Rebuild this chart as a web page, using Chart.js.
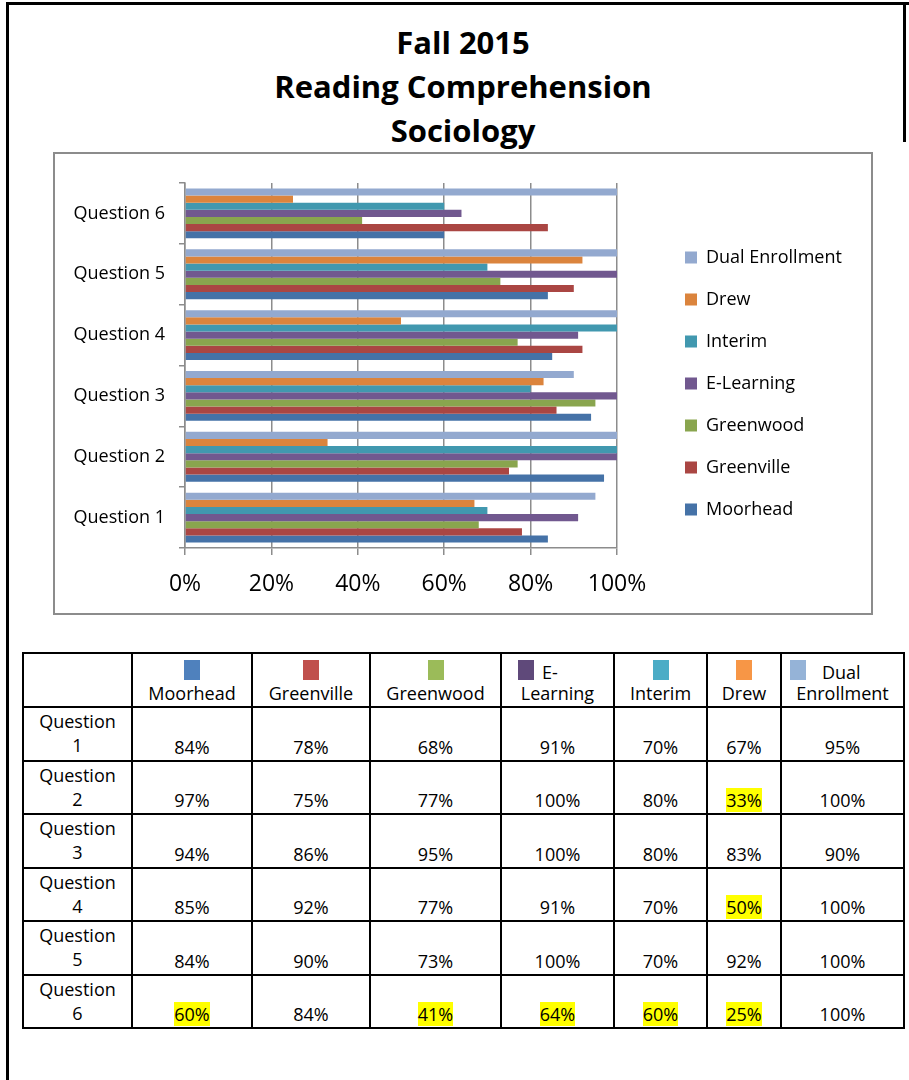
<!DOCTYPE html>
<html>
<head>
<meta charset="utf-8">
<script src="https://cdn.jsdelivr.net/npm/chart.js@4.4.0/dist/chart.umd.min.js"></script>
<style>
  body { margin: 0; background: #fff; font-family: "Open Sans", sans-serif; color: #000; }
  #page { position: relative; width: 909px; height: 1080px; overflow: hidden; }
  #frame { position: absolute; left: 6px; top: 2px; width: 920px; height: 1100px; border-left: 3px solid #000; border-top: 3px solid #000; }
  #frameRight { position: absolute; left: 903px; top: 2px; width: 3px; height: 140px; background: #000; }
  #title { position: absolute; left: 53px; top: 20px; width: 820px; text-align: center; font-weight: bold; font-size: 31px; line-height: 44px; }
  #chartBox { position: absolute; left: 53px; top: 152px; width: 816px; height: 459px; border: 2px solid #8c8c8c; }
  #data { position: absolute; left: 22px; top: 652px; border-collapse: collapse; table-layout: fixed; font-size: 18px; line-height: 24px; }
  #data td { border: 2px solid #000; padding: 0 2px 1px 2px; vertical-align: bottom; text-align: center; }
  #data tr { height: 53.5px; }
  #data tr.head { height: 54px; }
  #data td.q { vertical-align: top; padding-top: 1px; }
  #data td.h { vertical-align: top; padding-top: 6px; }
  .sq { display: inline-block; width: 16px; height: 20px; vertical-align: top; }
  .hl { background: #ffff00; }
</style>
</head>
<body>
<div id="page">
  <div id="frame"></div>
  <div id="frameRight"></div>
  <div id="title">Fall 2015<br>Reading Comprehension<br>Sociology</div>
  <div id="chartBox"><canvas id="chart"></canvas></div>
  <table id="data"></table>
</div>
<script>
// categories, bottom to top
const questions = ['Question 1', 'Question 2', 'Question 3', 'Question 4', 'Question 5', 'Question 6'];

// bar lengths as drawn in the chart (%)
const moorhead   = [84, 97, 94, 85, 84, 60];
const greenville = [78, 75, 86, 92, 90, 84];
const greenwood  = [68, 77, 95, 77, 73, 41];
const eLearning  = [91, 100, 100, 91, 100, 64];
const interim    = [70, 100, 80, 100, 70, 60];
const drew       = [67, 33, 83, 50, 92, 25];
const dual       = [95, 100, 90, 100, 100, 100];

// the table below the chart prints these for Interim
const interimTable = [70, 80, 80, 70, 70, 60];

const xTicks = [0, 20, 40, 60, 80, 100];

// cells marked yellow in the table (question number - site)
const highlighted = ['2-Drew', '4-Drew', '6-Moorhead', '6-Greenwood', '6-E-Learning', '6-Interim', '6-Drew'];

const series = [
  { name: 'Moorhead',        values: moorhead,   table: moorhead,     bar: '#4572a7', key: '#4f81bd' },
  { name: 'Greenville',      values: greenville, table: greenville,   bar: '#aa4643', key: '#c0504d' },
  { name: 'Greenwood',       values: greenwood,  table: greenwood,    bar: '#89a54e', key: '#9bbb59' },
  { name: 'E-Learning',      values: eLearning,  table: eLearning,    bar: '#71588f', key: '#5f497a' },
  { name: 'Interim',         values: interim,    table: interimTable, bar: '#4198af', key: '#4bacc6' },
  { name: 'Drew',            values: drew,       table: drew,         bar: '#db843d', key: '#f79646' },
  { name: 'Dual Enrollment', values: dual,       table: dual,         bar: '#93a9cf', key: '#95b3d7' }
];

const GRID = '#8c8c8c';
const FONT = '"Open Sans", sans-serif';

// --- chart ---
// Chart.js puts the first label on top and the first dataset on top of each group
const labelsTopDown = questions.slice().reverse();
const datasets = series.slice().reverse().map(s => ({
  label: s.name,
  data: s.values.slice().reverse(),
  backgroundColor: s.bar,
  borderWidth: 0
}));

const LEGEND_LEFT = 606;

const chart = new Chart(document.getElementById('chart'), {
  type: 'bar',
  data: { labels: labelsTopDown, datasets },
  options: {
    indexAxis: 'y',
    responsive: true,
    maintainAspectRatio: false,
    animation: false,
    categoryPercentage: 0.82,
    barPercentage: 1.0,
    layout: { padding: { top: 0, bottom: 0, left: 0, right: 12 } },
    plugins: {
      tooltip: { enabled: false },
      legend: {
        position: 'right',
        maxWidth: 300,
        labels: {
          boxWidth: 12,
          boxHeight: 12,
          padding: 24,
          color: '#000',
          font: { family: FONT, size: 18 }
        }
      }
    },
    scales: {
      x: {
        type: 'linear',
        position: 'bottom',
        min: xTicks[0],
        max: xTicks[xTicks.length - 1],
        afterBuildTicks: s => { s.ticks = xTicks.map(v => ({ value: v })); },
        ticks: {
          padding: 16,
          color: '#000',
          font: { family: FONT, size: 23 },
          callback: v => v + '%'
        },
        grid: { color: GRID, lineWidth: 1.5, tickLength: 7 },
        border: { display: true, color: GRID, width: 1.5 },
        afterFit: s => { s.height = 65; }
      },
      x2: {
        type: 'linear',
        position: 'top',
        grid: { display: false },
        ticks: { display: false },
        border: { display: false },
        afterFit: s => { s.height = 29; }
      },
      y: {
        type: 'category',
        position: 'left',
        ticks: {
          padding: 14,
          color: '#000',
          font: { family: FONT, size: 18 }
        },
        grid: { offset: true, drawOnChartArea: false, color: GRID, lineWidth: 1.5, tickLength: 6 },
        border: { display: true, color: GRID, width: 1.5 },
        afterFit: s => { s.width = 130; }
      },
      y2: {
        type: 'category',
        position: 'right',
        grid: { display: false },
        ticks: { display: false },
        border: { display: false },
        afterFit: s => { s.width = 44; }
      }
    }
  }
});

// move the legend so its boxes line up with the original
const shift = chart.legend.left - LEGEND_LEFT;
chart.options.layout.padding.right += shift;
chart.update('none');

// --- table ---
const table = document.getElementById('data');
const colWidths = [109, 120, 118, 131, 113, 93, 74, 123];
const colgroup = document.createElement('colgroup');
colWidths.forEach(w => {
  const c = document.createElement('col');
  c.style.width = w + 'px';
  colgroup.appendChild(c);
});
table.appendChild(colgroup);

const head = document.createElement('tr');
head.className = 'head';
head.appendChild(document.createElement('td'));
series.forEach(s => {
  const td = document.createElement('td');
  td.className = 'h';
  const sq = '<span class="sq" style="background:' + s.key + '"></span>';
  if (s.name === 'E-Learning') {
    td.innerHTML = '<div style="text-align:left;padding-left:14px;height:21px">' + sq +
      '<span style="margin-left:8px">E-</span></div><div>Learning</div>';
  } else if (s.name === 'Dual Enrollment') {
    td.innerHTML = '<div style="text-align:left;padding-left:6px;height:21px">' + sq +
      '<span style="margin-left:16px">Dual</span></div><div>Enrollment</div>';
  } else {
    td.innerHTML = '<div style="height:21px">' + sq + '</div><div>' + s.name + '</div>';
  }
  head.appendChild(td);
});
table.appendChild(head);

questions.forEach((q, i) => {
  const tr = document.createElement('tr');
  const qc = document.createElement('td');
  qc.className = 'q';
  const parts = q.split(' ');
  qc.innerHTML = parts[0] + '<br>' + parts[1];
  tr.appendChild(qc);
  series.forEach(s => {
    const td = document.createElement('td');
    const txt = s.table[i] + '%';
    if (highlighted.includes((i + 1) + '-' + s.name)) {
      td.innerHTML = '<span class="hl">' + txt + '</span>';
    } else {
      td.textContent = txt;
    }
    tr.appendChild(td);
  });
  table.appendChild(tr);
});
</script>
</body>
</html>
